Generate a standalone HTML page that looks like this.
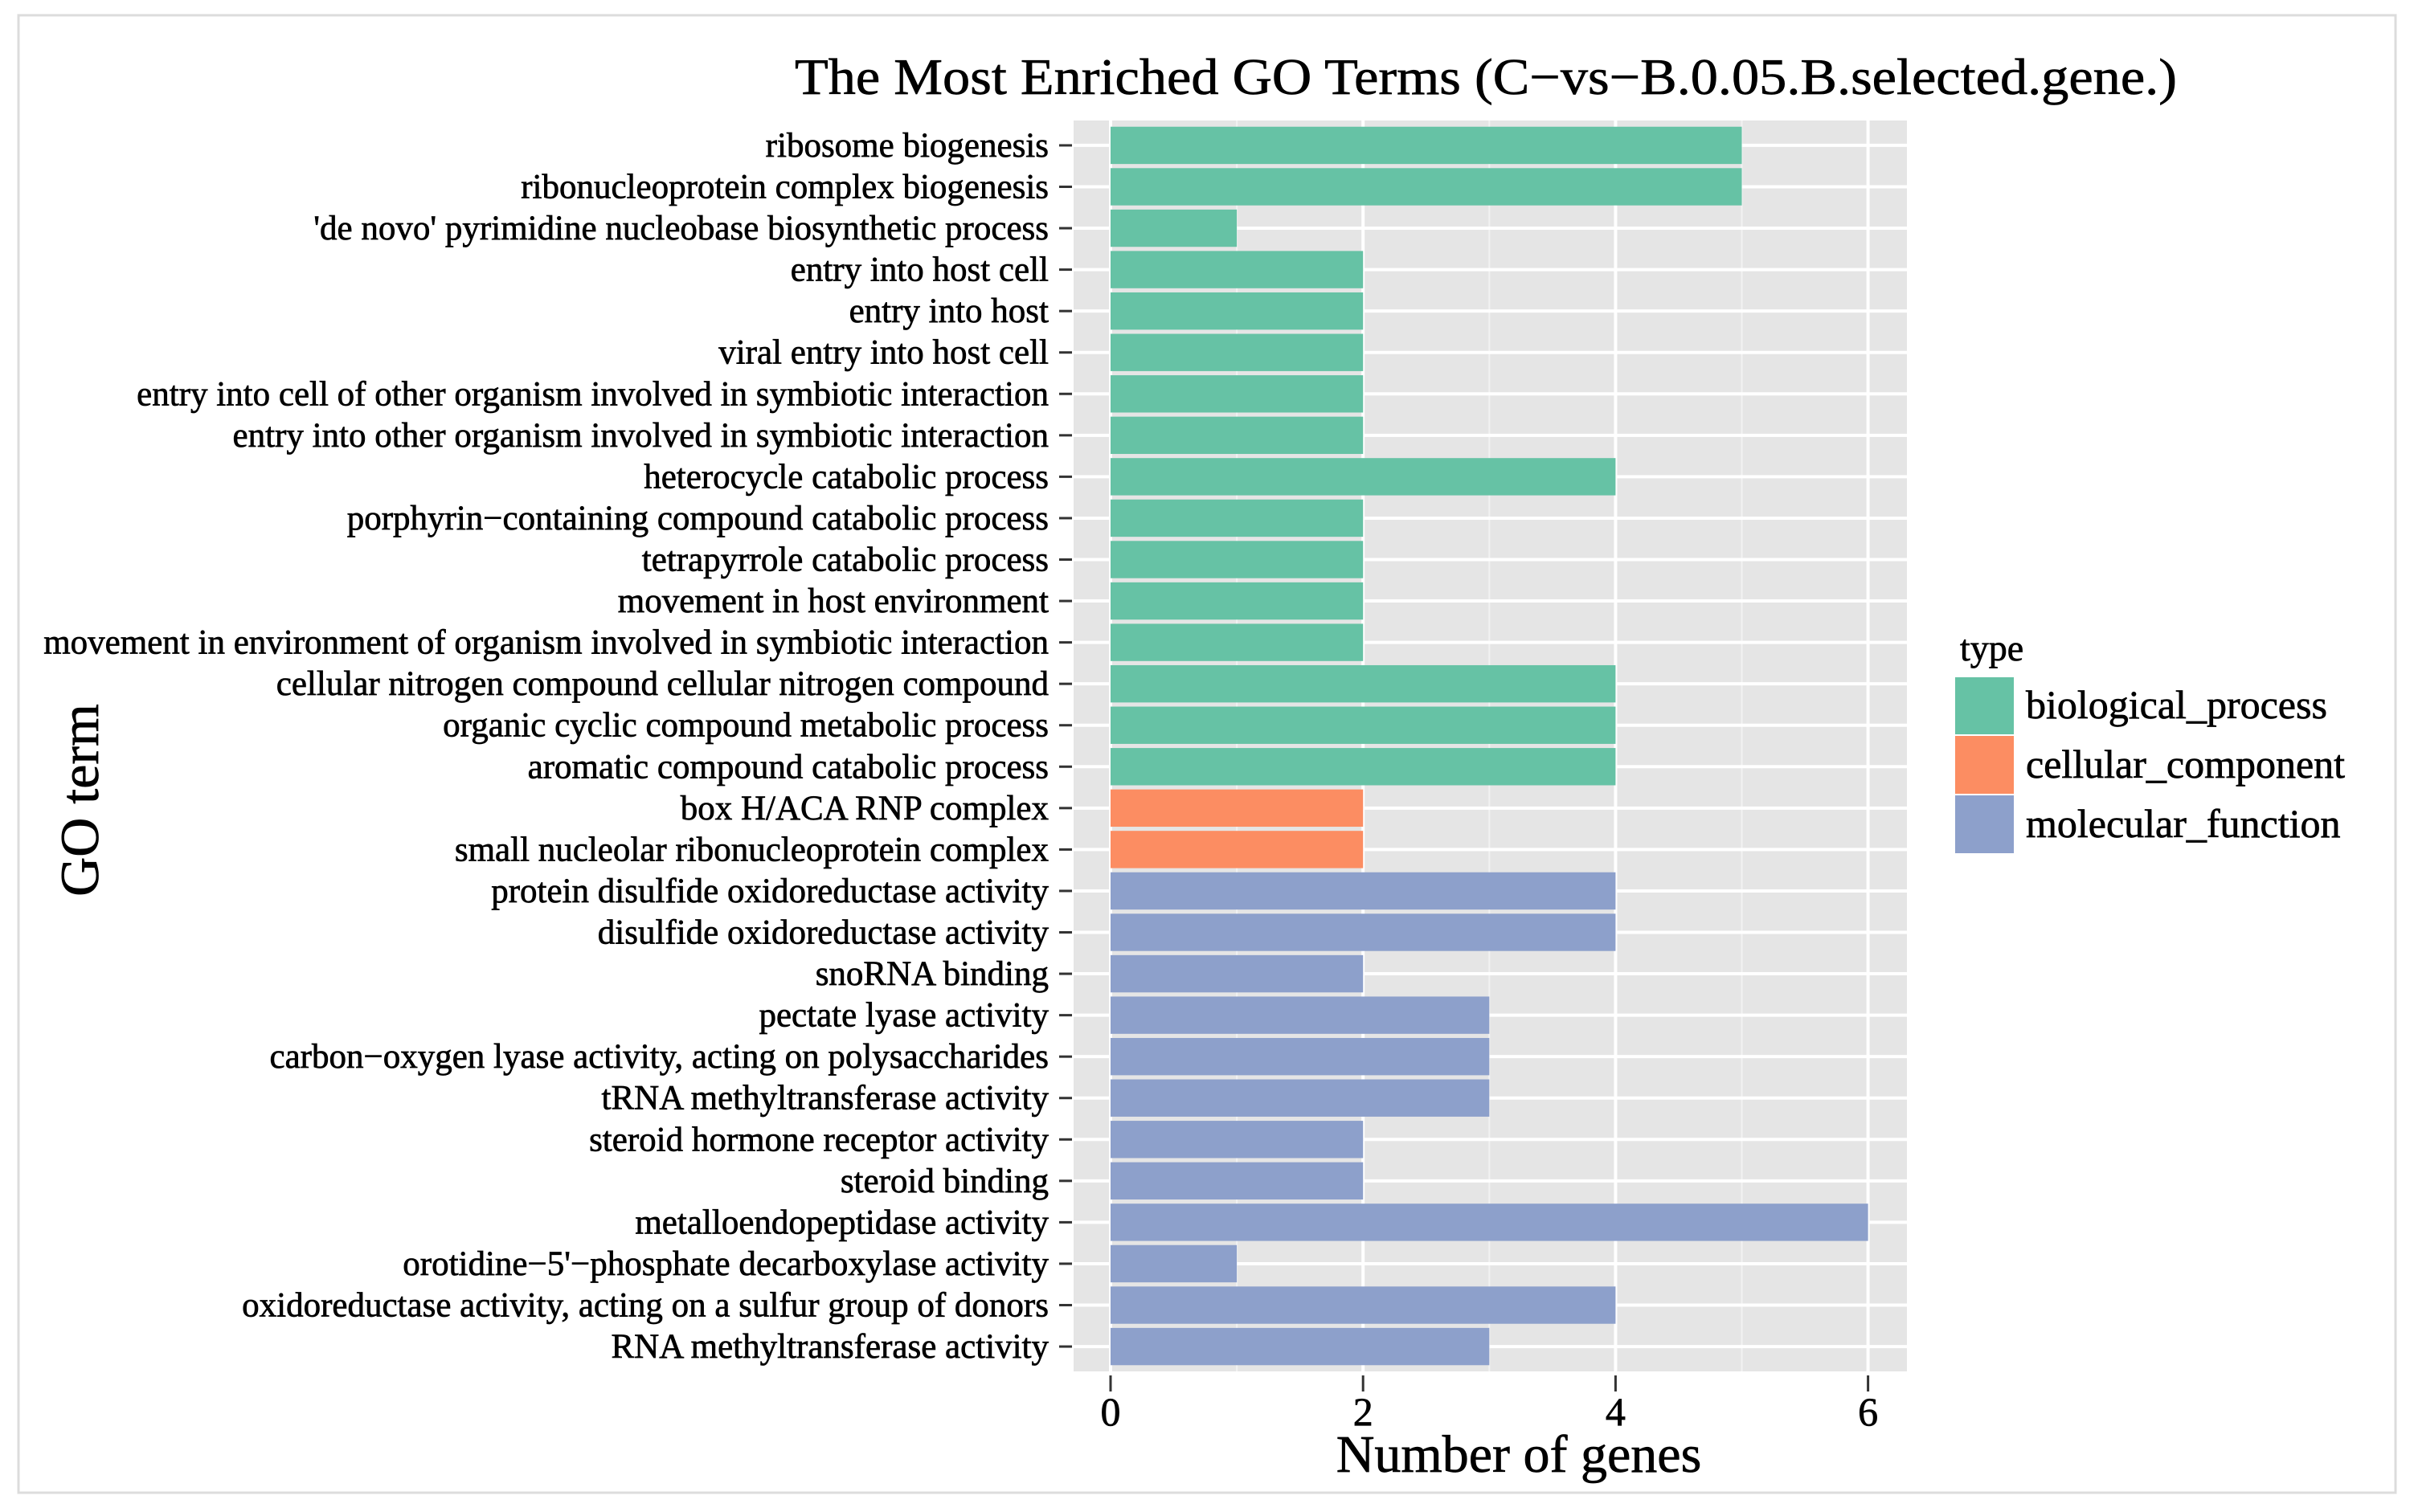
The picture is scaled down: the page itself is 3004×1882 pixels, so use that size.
<!DOCTYPE html>
<html><head><meta charset="utf-8"><style>
html,body{margin:0;padding:0;background:#fff;}
svg{display:block;font-family:"Liberation Serif","DejaVu Serif",serif;}
text{stroke:#000;stroke-width:0.7px;}
</style></head><body>
<svg id="chart" width="3004" height="1882" viewBox="0 0 3004 1882" xmlns="http://www.w3.org/2000/svg">
<rect x="23" y="19" width="2958" height="1839" fill="#fff" stroke="#dcdcdc" stroke-width="3"/>
<text x="1849" y="117" font-size="64" text-anchor="middle" textLength="1720" lengthAdjust="spacingAndGlyphs">The Most Enriched GO Terms (C−vs−B.0.05.B.selected.gene.)</text>
<rect x="1336" y="150" width="1037" height="1557" fill="#e5e5e5"/>
<g id="grid"></g><g id="bars"></g><g id="yaxis"></g><g id="xaxis"></g>
<text x="1890" y="1832" font-size="66" text-anchor="middle">Number of genes</text>
<text transform="translate(122,996) rotate(-90)" font-size="68" text-anchor="middle">GO term</text>
<g>
<text x="2439" y="822" font-size="46">type</text>
<rect x="2433" y="843" width="73" height="71" fill="#66c2a5"/>
<rect x="2433" y="916" width="73" height="72" fill="#fc8d62"/>
<rect x="2433" y="990" width="73" height="72" fill="#8da0cb"/>
<text x="2521" y="894" font-size="50">biological_process</text>
<text x="2521" y="968" font-size="50">cellular_component</text>
<text x="2521" y="1042" font-size="50">molecular_function</text>
</g>
</svg>
<script>
const terms = ["ribosome biogenesis","ribonucleoprotein complex biogenesis","'de novo' pyrimidine nucleobase biosynthetic process","entry into host cell","entry into host","viral entry into host cell","entry into cell of other organism involved in symbiotic interaction","entry into other organism involved in symbiotic interaction","heterocycle catabolic process","porphyrin−containing compound catabolic process","tetrapyrrole catabolic process","movement in host environment","movement in environment of organism involved in symbiotic interaction","cellular nitrogen compound cellular nitrogen compound","organic cyclic compound  metabolic process","aromatic compound catabolic process","box H/ACA RNP complex","small nucleolar ribonucleoprotein complex","protein disulfide oxidoreductase activity","disulfide oxidoreductase activity","snoRNA binding","pectate lyase activity","carbon−oxygen lyase activity, acting on polysaccharides","tRNA methyltransferase activity","steroid hormone receptor activity","steroid binding","metalloendopeptidase activity","orotidine−5'−phosphate decarboxylase activity","oxidoreductase activity, acting on a sulfur group of donors","RNA methyltransferase activity"];
const counts = [5,5,1,2,2,2,2,2,4,2,2,2,2,4,4,4,2,2,4,4,2,3,3,3,2,2,6,1,4,3];
const types = ["bp","bp","bp","bp","bp","bp","bp","bp","bp","bp","bp","bp","bp","bp","bp","bp","cc","cc","mf","mf","mf","mf","mf","mf","mf","mf","mf","mf","mf","mf"];
const xTicks = [0,2,4,6];
const colors = {bp:"#66c2a5",cc:"#fc8d62",mf:"#8da0cb"};
const NS="http://www.w3.org/2000/svg";
const x0=1382, xUnit=157.1, panelTop=150, panelBot=1707;
const n=terms.length, pitch=(panelBot-panelTop)/(n+0.2);
function xs(v){return x0+v*xUnit;}
function ys(i){return panelTop+pitch*(0.6+i);}
function mk(tag,attrs,parent){const e=document.createElementNS(NS,tag);for(const k in attrs)e.setAttribute(k,attrs[k]);parent.appendChild(e);return e;}
const grid=document.getElementById('grid'),bars=document.getElementById('bars'),ya=document.getElementById('yaxis'),xa=document.getElementById('xaxis');
for(let v=-1;v<=7;v+=2){const px=xs(v);if(px>1336&&px<2373){const l=mk('line',{x1:px,x2:px,y1:panelTop,y2:panelBot,stroke:'#f2f2f2','stroke-width':2},grid);

}}
xTicks.forEach(v=>{const px=xs(v);
const g=mk('line',{x1:px,x2:px,y1:panelTop,y2:panelBot,stroke:'#fff','stroke-width':4},grid);


const t=mk('line',{x1:px,x2:px,y1:panelBot+5,y2:panelBot+25,stroke:'#333','stroke-width':3},xa);


const tx=mk('text',{x:px,y:1774,'font-size':50,'text-anchor':'middle'},xa);tx.textContent=v;

});
terms.forEach((t,i)=>{const cy=ys(i);
const g=mk('line',{x1:1336,x2:2373,y1:cy,y2:cy,stroke:'#fff','stroke-width':4},grid);


const h=pitch*0.9;
const b=mk('rect',{x:xs(0),y:cy-h/2,width:xs(counts[i])-xs(0),height:h,fill:colors[types[i]]},bars);


const tk=mk('line',{x1:1318,x2:1334,y1:cy,y2:cy,stroke:'#333','stroke-width':3},ya);


const lb=mk('text',{x:1305,y:cy+14,'font-size':43,'text-anchor':'end'},ya);lb.textContent=t;

});
</script>
</body></html>
